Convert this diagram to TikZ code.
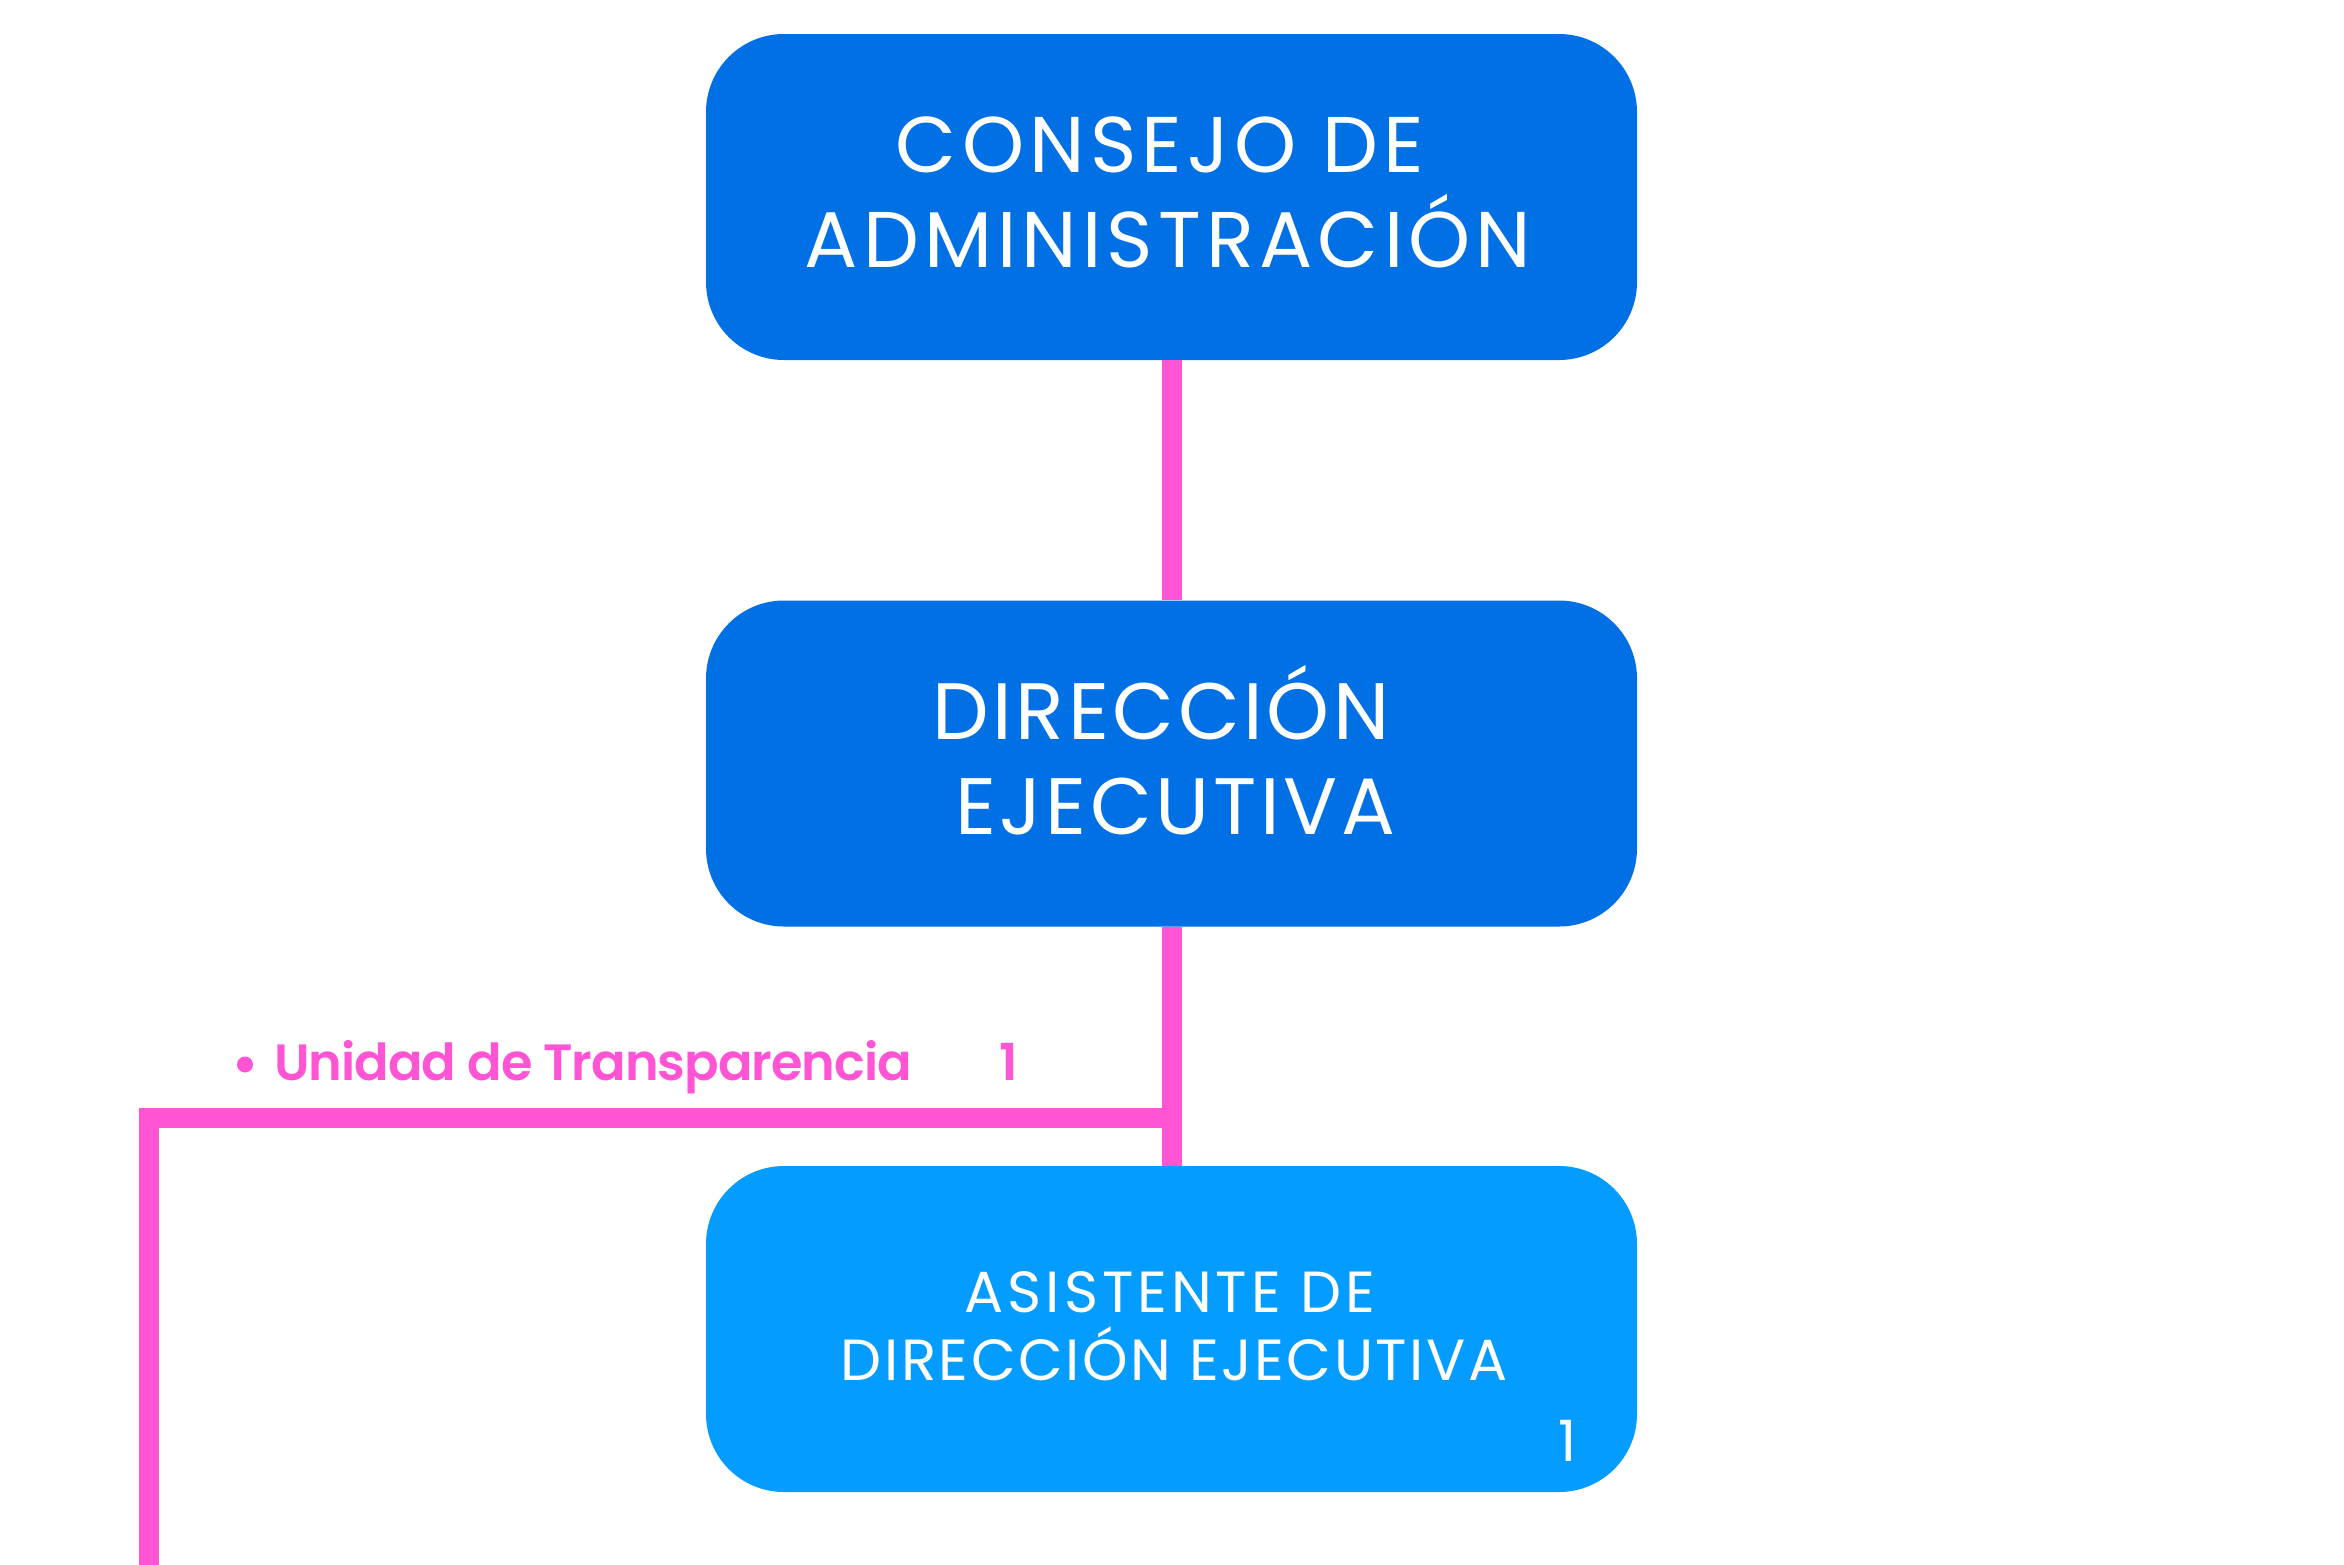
\documentclass[tikz,border=0pt]{standalone}
\usepackage{fontspec}
\setmainfont{Poppins}
\newfontfamily\semib{Poppins SemiBold}
\definecolor{dblue}{HTML}{0070E4}
\definecolor{lblue}{HTML}{059CFF}
\definecolor{pinkc}{HTML}{FF55D5}
\begin{document}
\begin{tikzpicture}[x=1pt,y=-1pt,
  box/.style={rounded corners=78pt, minimum width=931pt, minimum height=326pt, inner sep=0pt},
  boxtext/.style={text=white, inner sep=0pt, anchor=base},
  conn/.style={draw=pinkc, line width=20pt, line join=miter},
  lbl/.style={text=pinkc, inner sep=0pt, font=\semib\fontsize{51}{60}\selectfont}]
\useasboundingbox (0,0) rectangle (2344,1564);
\fill[white] (0,0) rectangle (2344,1564);
\coordinate (bj) at (1181,1117.5);
\coordinate (lc) at (149,1117.5);
\coordinate (lend) at (149,1580);
\node[box, fill=dblue] (consejo) at (1171.5,197) {};
\node[box, fill=dblue] (direccion) at (1171.5,763.5) {};
\node[box, fill=lblue] (asistente) at (1171.5,1329) {};
\begin{scope}[every node/.append style={boxtext}]
\node[font=\fontsize{79}{95}\selectfont\addfontfeatures{LetterSpace=6.5}] (c1) at (1160,172) {CONSEJO DE};
\node[font=\fontsize{79}{95}\selectfont\addfontfeatures{LetterSpace=6.5}] (c2) at (1168,267) {ADMINISTRACIÓN};
\node[font=\fontsize{80}{95}\selectfont\addfontfeatures{LetterSpace=4.5}] (d1) at (1161,739) {DIRECCIÓN};
\node[font=\fontsize{80}{95}\selectfont\addfontfeatures{LetterSpace=4.5}] (d2) at (1175,834) {EJECUTIVA};
\node[font=\fontsize{58}{68}\selectfont\addfontfeatures{LetterSpace=6.8}] (a1) at (1170,1312) {ASISTENTE DE};
\node[font=\fontsize{58}{68}\selectfont\addfontfeatures{LetterSpace=4.3}] (a2) at (1174,1380) {DIRECCIÓN EJECUTIVA};
\node[font=\fontsize{57}{60}\selectfont] (num) at (1568,1461) {1};
\end{scope}
\draw[conn] ([xshift=0.5pt]consejo.south) -- ([xshift=0.5pt]direccion.north);
\draw[conn] ([xshift=0.5pt]direccion.south) -- ([xshift=0.5pt]asistente.north);
\draw[conn] (bj) -- (lc) -- (lend);
\node[circle, fill=pinkc, minimum size=16pt, inner sep=0pt] (bullet) at (245,1064.5) {};
\node[lbl, anchor=base west, font=\semib\fontsize{51}{60}\selectfont\addfontfeatures{LetterSpace=-2}] (ut) at (274,1080) {Unidad de Transparencia};
\node[lbl, anchor=base] (ut1) at (1009,1080) {1};
\end{tikzpicture}
\end{document}
